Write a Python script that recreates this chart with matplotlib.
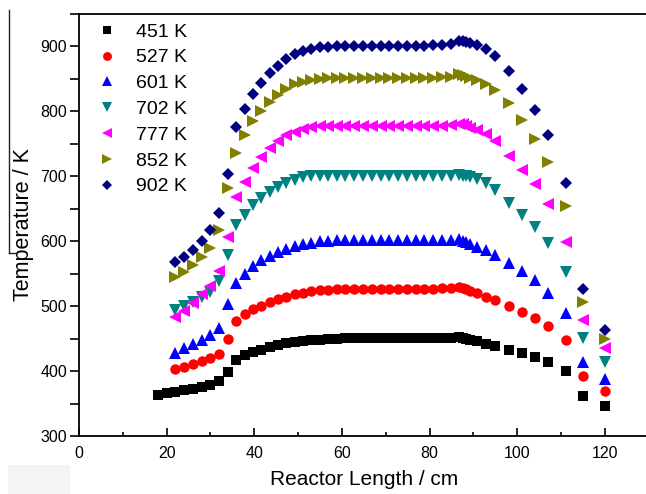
import matplotlib
matplotlib.use("Agg")
import matplotlib.pyplot as plt
from matplotlib.lines import Line2D
from matplotlib.patches import Rectangle
from matplotlib.ticker import MultipleLocator

plt.rcParams['font.family'] = ['Liberation Sans', 'DejaVu Sans']

# Reactor positions (cm)
x_main = [22, 24, 26, 28, 30, 32, 34, 35.9, 37.8, 39.7, 41.6, 43.5, 45.4, 47.3,
          49.2, 51.1, 53, 54.9, 56.8, 58.8, 60.8, 62.8, 64.8, 66.8, 68.8, 70.8,
          72.8, 74.8, 76.8, 78.8, 80.8, 82.8, 84.8, 86.8, 87.6, 88.4, 89.2,
          90.8, 92.8, 94.9, 98, 101, 104, 107, 111, 115, 120]
x_black = [18, 20] + x_main

labels = ["451 K", "527 K", "601 K", "702 K", "777 K", "852 K", "902 K"]

T_451 = [363, 365.5,
         368, 370.5, 373, 376, 379, 384, 399, 417, 424.5, 429.5, 433, 437, 440, 442.5,
         444.5, 446, 447.5, 448.5, 449.5, 450, 450.5, 451, 451, 451, 451, 451,
         451, 451, 451, 451, 451, 451.5, 451.5, 452, 451.5, 450, 448.5,
         446, 442, 438.5, 432.5, 428, 421, 413.5, 400, 362, 346]
T_527 = [402.5, 406.5, 411, 415.5, 419.5, 427, 449, 477.5, 487.5, 495, 500.5, 506, 510.5, 514.5,
         518, 521, 523, 524.5, 525.5, 526, 526.5, 527, 527, 527, 527, 527,
         527, 527, 527, 527, 527, 527.5, 528, 529, 528, 526, 524,
         519.5, 514.5, 509, 500, 491.5, 482.5, 469, 448, 392.5, 370]
T_601 = [428.5, 435, 441.5, 448.5, 455.5, 466, 503, 536, 550, 561.5, 570.5, 578, 583.5, 588.5,
         592.5, 595.5, 598, 600, 601, 601.5, 602, 602, 602, 602, 602, 602,
         602, 602, 602, 602, 602, 602, 602.5, 604, 601, 599, 596,
         591, 586, 578.5, 566.5, 554, 540, 520.5, 490, 414, 388.5]
T_702 = [494.5, 499.5, 506, 514, 522, 538, 578.5, 624.5, 640, 656, 667, 676, 683, 690,
         695, 698.5, 700, 700.5, 700, 700, 700, 700, 700, 700, 700, 700,
         700, 700, 700, 700, 700.5, 701, 701, 702, 701, 700, 699,
         696.5, 690, 679, 659, 640, 622, 597.5, 553, 450.5, 414.5]
T_777 = [484, 493, 505, 518, 531, 554, 606.5, 668.5, 692, 713, 730, 744, 754, 763,
         769, 773, 776, 777, 777.5, 777, 777, 777, 777, 777, 777, 777,
         777, 777, 777, 777, 777.5, 778, 778.5, 781, 780, 778, 775,
         771, 765.5, 755, 732, 710, 687.5, 658, 599, 478.5, 435]
T_852 = [545, 553, 563, 575.5, 589, 617, 682, 736.5, 763, 785, 800, 815, 826, 834.5,
         841.5, 846, 848.5, 850, 851, 851, 851, 851, 851, 851, 851, 851,
         851, 851, 851, 851.5, 852, 852.5, 853, 857, 856, 854, 851,
         848, 842.5, 833.5, 813, 787, 758, 722, 654, 506.5, 450]
T_902 = [568, 575.5, 587, 600, 618, 644, 703, 776, 804, 827, 843.5, 858.5, 870.5, 880.5,
         888, 892.5, 896, 898.5, 899.5, 900, 900, 900, 900, 900, 900, 900,
         900, 900, 900, 901, 902, 903, 904, 908, 908, 907, 905,
         902, 896, 886, 862, 835, 802.5, 764, 689, 526, 464]

series = [
    (x_black, T_451, 's', '#000000', 6.5),
    (x_main, T_527, 'o', '#ff0000', 7.5),
    (x_main, T_601, '^', '#0000ff', 8.0),
    (x_main, T_702, 'v', '#008080', 8.0),
    (x_main, T_777, '<', '#ff00ff', 8.0),
    (x_main, T_852, '>', '#808000', 8.0),
    (x_main, T_902, 'D', '#000080', 6.5),
]

fig = plt.figure(figsize=(6.46, 4.94), dpi=100)
ax = fig.add_axes([79 / 646, (494 - 436) / 494, (648.8 - 79) / 646, (436 - 14) / 494])

for (xs, ys, m, c, ms), lab in zip(series, labels):
    ax.plot(xs, ys, linestyle='none', marker=m, color=c, markersize=ms,
            markeredgewidth=0, label=lab)

ax.set_xlim(0, 130)
ax.set_ylim(300, 950)
ax.xaxis.set_major_locator(MultipleLocator(20))
ax.xaxis.set_minor_locator(MultipleLocator(10))
ax.yaxis.set_major_locator(MultipleLocator(100))
ax.yaxis.set_minor_locator(MultipleLocator(50))
ax.set_yticks([300, 400, 500, 600, 700, 800, 900])

ax.tick_params(axis='x', which='major', direction='in', length=6, width=1.2, labelsize=11.5, pad=7)
ax.tick_params(axis='x', which='minor', direction='in', length=3, width=1.2)
ax.tick_params(axis='y', which='major', direction='out', length=6.5, width=1.2, labelsize=11.5, pad=2)
ax.tick_params(axis='y', which='minor', direction='out', length=6.5, width=1.2)
for sp in ax.spines.values():
    sp.set_linewidth(1.3)

ax.set_xlabel("Reactor Length / cm", fontsize=15, labelpad=7)
ax.set_ylabel("Temperature / K", fontsize=15.5, labelpad=5)

leg = ax.legend(loc='upper left', frameon=False, fontsize=14, labelspacing=0.42,
                handlelength=1.0, handletextpad=1.0, borderaxespad=0.0,
                bbox_to_anchor=(0.018, 0.997))
for h in leg.legend_handles:
    h.set_markersize(h.get_markersize() * 0.85)

# scan artifacts of the reference
fig.add_artist(Line2D([9 / 646, 9 / 646], [1 - 10 / 494, 1 - 253 / 494],
                      color='#222222', linewidth=1.0))
fig.add_artist(Line2D([9 / 646, 15 / 646], [1 - 253 / 494, 1 - 253 / 494],
                      color='#222222', linewidth=1.0))
fig.add_artist(Rectangle((8 / 646, 0), 62 / 646, 29 / 494, facecolor='#f4f4f4',
                         edgecolor='none', zorder=-1))

fig.savefig("out.png", dpi=100)
